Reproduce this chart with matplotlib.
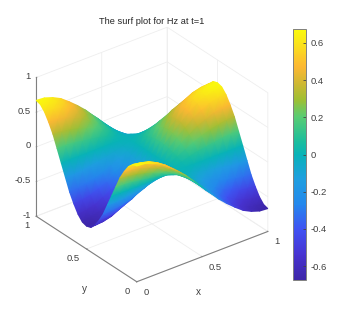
import numpy as np
import matplotlib
matplotlib.use("Agg")
import matplotlib.pyplot as plt
from matplotlib.cm import ScalarMappable
from matplotlib.colors import LinearSegmentedColormap, Normalize
from matplotlib.tri import Triangulation
from mpl_toolkits.mplot3d import proj3d

plt.rcParams['font.family'] = ['Liberation Sans', 'DejaVu Sans']

title = "The surf plot for Hz at t=1"
x_label, y_label = "x", "y"
x_grid = np.array([i / 16 for i in range(17)])
y_grid = np.array([j / 24 for j in range(25)])
x_ticks = [0, 0.5, 1]
y_ticks = [0, 0.5, 1]
x_tick_labels = ["0", "0.5", "1"]
y_tick_labels = ["0", "0.5", "1"]
z_ticks = [-1, -0.5, 0, 0.5, 1]
z_tick_labels = ["-1", "-0.5", "0", "0.5", "1"]
cbar_ticks = [-0.6, -0.4, -0.2, 0, 0.2, 0.4, 0.6]
cbar_tick_labels = ["-0.6", "-0.4", "-0.2", "0", "0.2", "0.4", "0.6"]
c_min, c_max = -0.675, 0.675

# Hz: rows are y = 0..1, columns are x = 0..1
hz_values = [
 [ .67, .66, .62, .56, .47, .37, .26, .13, 0,-.13,-.26,-.37,-.47,-.56,-.62,-.66,-.67],
 [ .65, .63, .60, .54, .46, .36, .25, .13, 0,-.13,-.25,-.36,-.46,-.54,-.60,-.63,-.65],
 [ .58, .57, .54, .48, .41, .32, .22, .11, 0,-.11,-.22,-.32,-.41,-.48,-.54,-.57,-.58],
 [ .47, .46, .44, .39, .34, .26, .18, .09, 0,-.09,-.18,-.26,-.34,-.39,-.44,-.46,-.47],
 [ .34, .33, .31, .28, .24, .19, .13, .07, 0,-.07,-.13,-.19,-.24,-.28,-.31,-.33,-.34],
 [ .17, .17, .16, .14, .12, .10, .07, .03, 0,-.03,-.07,-.10,-.12,-.14,-.16,-.17,-.17],
 [   0,   0,   0,   0,   0,   0,   0,   0, 0,   0,   0,   0,   0,   0,   0,   0,   0],
 [-.17,-.17,-.16,-.14,-.12,-.10,-.07,-.03, 0, .03, .07, .10, .12, .14, .16, .17, .17],
 [-.34,-.33,-.31,-.28,-.24,-.19,-.13,-.07, 0, .07, .13, .19, .24, .28, .31, .33, .34],
 [-.47,-.46,-.44,-.39,-.34,-.26,-.18,-.09, 0, .09, .18, .26, .34, .39, .44, .46, .47],
 [-.58,-.57,-.54,-.48,-.41,-.32,-.22,-.11, 0, .11, .22, .32, .41, .48, .54, .57, .58],
 [-.65,-.63,-.60,-.54,-.46,-.36,-.25,-.13, 0, .13, .25, .36, .46, .54, .60, .63, .65],
 [-.67,-.66,-.62,-.56,-.47,-.37,-.26,-.13, 0, .13, .26, .37, .47, .56, .62, .66, .67],
 [-.65,-.63,-.60,-.54,-.46,-.36,-.25,-.13, 0, .13, .25, .36, .46, .54, .60, .63, .65],
 [-.58,-.57,-.54,-.48,-.41,-.32,-.22,-.11, 0, .11, .22, .32, .41, .48, .54, .57, .58],
 [-.47,-.46,-.44,-.39,-.34,-.26,-.18,-.09, 0, .09, .18, .26, .34, .39, .44, .46, .47],
 [-.34,-.33,-.31,-.28,-.24,-.19,-.13,-.07, 0, .07, .13, .19, .24, .28, .31, .33, .34],
 [-.17,-.17,-.16,-.14,-.12,-.10,-.07,-.03, 0, .03, .07, .10, .12, .14, .16, .17, .17],
 [   0,   0,   0,   0,   0,   0,   0,   0, 0,   0,   0,   0,   0,   0,   0,   0,   0],
 [ .17, .17, .16, .14, .12, .10, .07, .03, 0,-.03,-.07,-.10,-.12,-.14,-.16,-.17,-.17],
 [ .34, .33, .31, .28, .24, .19, .13, .07, 0,-.07,-.13,-.19,-.24,-.28,-.31,-.33,-.34],
 [ .47, .46, .44, .39, .34, .26, .18, .09, 0,-.09,-.18,-.26,-.34,-.39,-.44,-.46,-.47],
 [ .58, .57, .54, .48, .41, .32, .22, .11, 0,-.11,-.22,-.32,-.41,-.48,-.54,-.57,-.58],
 [ .65, .63, .60, .54, .46, .36, .25, .13, 0,-.13,-.25,-.36,-.46,-.54,-.60,-.63,-.65],
 [ .67, .66, .62, .56, .47, .37, .26, .13, 0,-.13,-.26,-.37,-.47,-.56,-.62,-.66,-.67],
]

cmap = LinearSegmentedColormap.from_list("parula_like", [
    (0.00, (.24, .15, .66)), (0.10, (.28, .20, .82)), (0.20, (.25, .32, .95)),
    (0.30, (.14, .53, .93)), (0.40, (.12, .62, .88)), (0.50, (.03, .70, .72)),
    (0.55, (.10, .74, .62)), (0.65, (.35, .80, .45)), (0.72, (.62, .75, .20)),
    (0.78, (.80, .72, .20)), (0.85, (.99, .72, .20)), (0.95, (.98, .90, .10)),
    (1.00, (.98, .98, .05))])

W, H = 356, 316
fig = plt.figure(figsize=(W / 100, H / 100), dpi=100)
ax = fig.add_axes([10.8 / W, 20.3 / H, 275 / W, 275 / H], projection='3d', proj_type='ortho')
ax.view_init(elev=30, azim=-127.5)
ax.set_box_aspect((1, 1, 0.97))
ax.set_xlim(0, 1); ax.set_ylim(0, 1); ax.set_zlim(-1, 1)
ax.patch.set_alpha(0)

grey = '#808080'
txt = '#404040'
for axis in (ax.xaxis, ax.yaxis, ax.zaxis):
    axis.set_pane_color((1, 1, 1, 0))
    axis.pane.set_edgecolor('#ececec')
    axis.pane.set_linewidth(0.6)
    axis.line.set_color(grey)
    axis.line.set_linewidth(0.8)
    axis._axinfo['grid'].update(color='#eeeeee', linewidth=0.6)
    axis._axinfo['tick'].update(inward_factor=0.0, outward_factor=0.06, linewidth={True: 0.6, False: 0.6})
ax.set_xticks(x_ticks); ax.set_xticklabels([""] * len(x_ticks))
ax.set_yticks(y_ticks); ax.set_yticklabels([""] * len(y_ticks))
ax.set_zticks(z_ticks); ax.set_zticklabels([""] * len(z_ticks))
ax.tick_params(colors=grey)


# MATLAB keeps the z axis on the left edge of the box (x = 0, y = 1)
def z_axis_edge(minmax, maxmin, position=None):
    low = np.minimum(minmax, maxmin)
    high = np.maximum(minmax, maxmin)
    return np.array([low[0], high[1], low[2]]), np.array([low[0], high[1], high[2]])


ax.zaxis._get_axis_line_edge_points = z_axis_edge

fig.canvas.draw()


def to_screen(xs, ys, zs):
    a, b, c = proj3d.proj_transform(np.asarray(xs, float), np.asarray(ys, float),
                                    np.asarray(zs, float), ax.get_proj())
    return ax.transData.transform(np.column_stack([a, b])), np.asarray(c)


# surface: Gouraud triangles, far to near, at the projected positions of the 3D axes
X, Y = np.meshgrid(x_grid, y_grid)
Z = np.array(hz_values, dtype=float)
screen, pz = to_screen(X.ravel(), Y.ravel(), Z.ravel())
ny, nx = Z.shape
idx = np.arange(nx * ny).reshape(ny, nx)
tris = np.vstack([
    np.column_stack([idx[:-1, :-1].ravel(), idx[:-1, 1:].ravel(), idx[1:, 1:].ravel()]),
    np.column_stack([idx[:-1, :-1].ravel(), idx[1:, 1:].ravel(), idx[1:, :-1].ravel()]),
])
depth = pz[tris].mean(axis=1)
tris = tris[np.argsort(-depth)]

ov = fig.add_axes([0, 0, 1, 1], facecolor='none')
ov.set_xlim(0, W); ov.set_ylim(0, H); ov.axis('off')
ov.tripcolor(Triangulation(screen[:, 0], screen[:, 1], tris), Z.ravel(),
             shading='gouraud', cmap=cmap, vmin=c_min, vmax=c_max)
ov.text(152, H - 21, title, ha='center', va='center', fontsize=6.7, color='#262626')

fs = 6.8
n = len(x_ticks)
p, _ = to_screen(x_ticks, [0] * n, [-1] * n)
for (a, b), s in zip(p, x_tick_labels):
    ov.text(a + 6.5, b - 10.5, s, ha='left', va='center', fontsize=fs, color=txt)
n = len(y_ticks)
p, _ = to_screen([0] * n, y_ticks, [-1] * n)
for (a, b), s in zip(p, y_tick_labels):
    ov.text(a - 6.5, b - 9.5, s, ha='right', va='center', fontsize=fs, color=txt)
n = len(z_ticks)
p, _ = to_screen([0] * n, [1] * n, z_ticks)
for (a, b), s in zip(p, z_tick_labels):
    ov.text(a - 5.5, b + 1, s, ha='right', va='center', fontsize=fs, color=txt)
ov.text(198, H - 292, x_label, ha='center', va='center', fontsize=fs + 0.4, color=txt)
ov.text(84, H - 289, y_label, ha='center', va='center', fontsize=fs + 0.4, color=txt)

cax = fig.add_axes([293 / W, 36 / H, 13 / W, 251 / H])
cb = fig.colorbar(ScalarMappable(Normalize(c_min, c_max), cmap), cax=cax)
cb.set_ticks(cbar_ticks, labels=cbar_tick_labels)
cb.ax.tick_params(direction='in', length=2, width=0.6, labelsize=fs, labelcolor=txt, color='#444444', pad=3)
cb.outline.set_edgecolor('#808080')
cb.outline.set_linewidth(0.7)

fig.savefig("out.png", dpi=100)
